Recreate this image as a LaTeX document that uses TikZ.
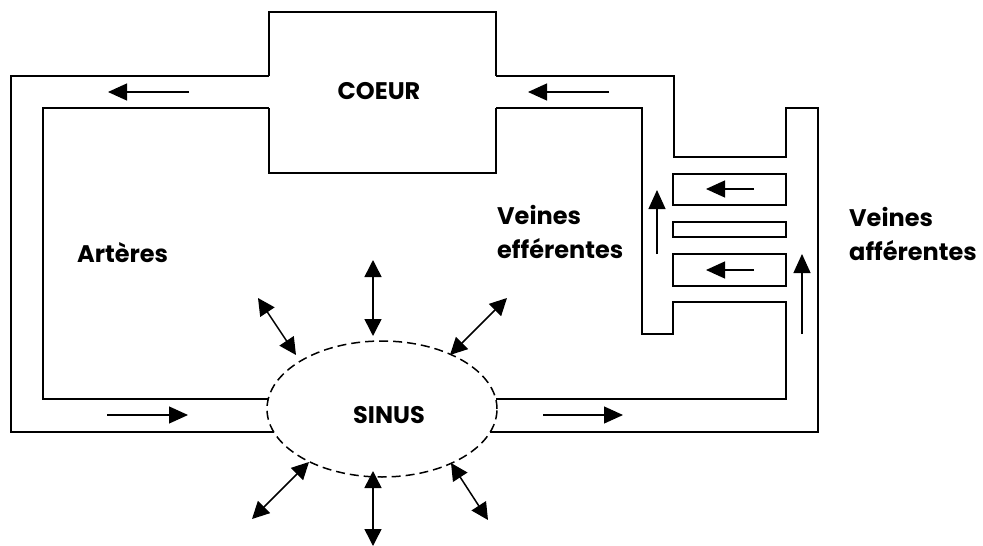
\documentclass[tikz,border=0pt]{standalone}
\usepackage{fontspec}
\setmainfont{Poppins}
\usetikzlibrary{arrows.meta,shapes.geometric}
\begin{document}
\begin{tikzpicture}[x=1pt,y=-1pt,
  wall/.style={line width=1.1pt,line join=miter},
  flow/.style={line width=1.2pt,-{Triangle[length=19pt,width=17pt]}},
  dbl/.style={line width=1.5pt,{Triangle[length=17pt,width=17pt]}-{Triangle[length=17pt,width=17pt]}},
  lbl/.style={font=\bfseries\fontsize{24}{34}\selectfont,inner sep=0pt}]
\useasboundingbox (0,0) rectangle (983,546);
% sinus
\node[ellipse,draw,dash pattern=on 9pt off 5pt,line width=1.5pt,minimum width=230pt,minimum height=136pt,inner sep=0pt] (sinus) at (382,409) {};
\node[lbl,anchor=base] (sinuslbl) at (389,423) {SINUS};
% heart
\draw[wall] (269,76) -- (269,12) -- (496,12) -- (496,76);
\draw[wall] (269,108) -- (269,173) -- (496,173) -- (496,108);
\node[lbl,anchor=base] (coeur) at (379,99) {COEUR};
% arteries
\coordinate (aol) at (274,432);
\coordinate (ail) at (268,399);
\draw[wall] (269,76) -- (11,76) -- (11,432) -- (aol);
\draw[wall] (269,108) -- (43,108) -- (43,399) -- (ail);
% veins
\coordinate (vor) at (490,432);
\coordinate (vir) at (496,399);
\draw[wall] (496,76) -- (674,76) -- (674,157) -- (786,157) -- (786,108) -- (818,108) -- (818,432) -- (vor);
\draw[wall] (496,108) -- (642,108) -- (642,334) -- (673,334) -- (673,302) -- (786,302) -- (786,399) -- (vir);
% capillaries
\draw[wall] (673,174) rectangle (786,205);
\draw[wall] (673,222) rectangle (786,237);
\draw[wall] (673,254) rectangle (786,286);
% flow arrows
\coordinate (f1s) at (189,92); \coordinate (f1e) at (108,92);
\coordinate (f2s) at (609,92); \coordinate (f2e) at (528,92);
\coordinate (f3s) at (107,415); \coordinate (f3e) at (188,415);
\coordinate (f4s) at (543,415); \coordinate (f4e) at (623,415);
\coordinate (f5s) at (657,254); \coordinate (f5e) at (657,190);
\coordinate (f6s) at (802,334); \coordinate (f6e) at (802,254);
\coordinate (f7s) at (754,189); \coordinate (f7e) at (706,189);
\coordinate (f8s) at (754,270); \coordinate (f8e) at (706,270);
\foreach \i in {1,...,8} \draw[flow] (f\i s) -- (f\i e);
% exchanges
\coordinate (d1a) at (373,260); \coordinate (d1b) at (373,336);
\coordinate (d2a) at (258,298); \coordinate (d2b) at (296,355);
\coordinate (d3a) at (507,298); \coordinate (d3b) at (450,355);
\coordinate (d4a) at (373,546); \coordinate (d4b) at (373,471);
\coordinate (d5a) at (252,519); \coordinate (d5b) at (309,462);
\coordinate (d6a) at (488,520); \coordinate (d6b) at (451,463);
\foreach \i in {1,...,6} \draw[dbl] (d\i a) -- (d\i b);
% labels
\node[lbl,anchor=base west] (art) at (77,262) {Artères};
\node[lbl,anchor=base west] (veff1) at (497,224) {Veines};
\node[lbl,anchor=base west] (veff2) at (497,258) {efférentes};
\node[lbl,anchor=base west] (vaff1) at (849,226) {Veines};
\node[lbl,anchor=base west] (vaff2) at (849,260) {afférentes};
\end{tikzpicture}
\end{document}
